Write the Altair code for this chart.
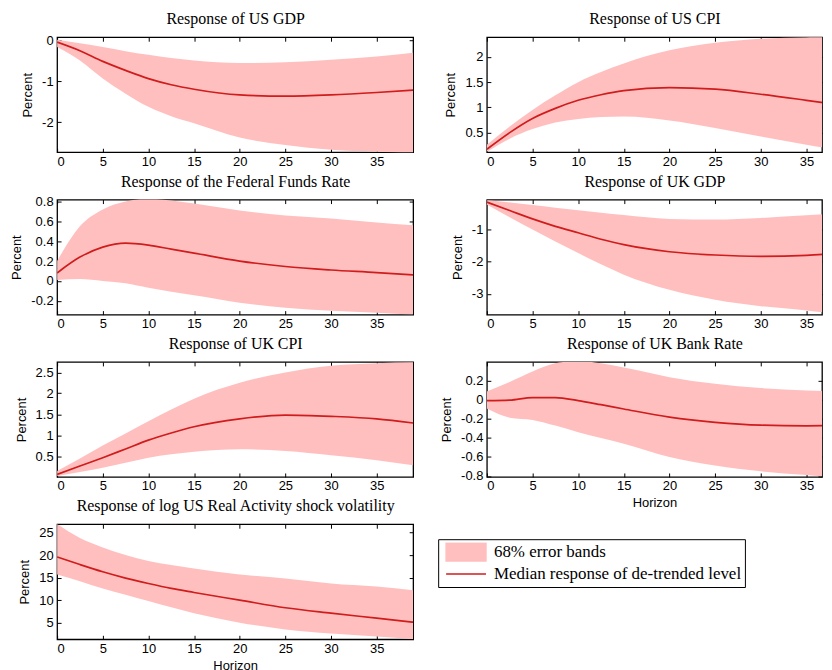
import altair as alt
import pandas as pd

# ---------------- data ----------------
horizon = [0, 2.5, 5, 7.5, 10, 12.5, 15, 20, 25, 30, 35, 39]
x_ticks = [0, 5, 10, 15, 20, 25, 30, 35]

titles = [
    "Response of US GDP",
    "Response of US CPI",
    "Response of the Federal Funds Rate",
    "Response of UK GDP",
    "Response of UK CPI",
    "Response of UK Bank Rate",
    "Response of log US Real Activity shock volatility",
]

us_gdp_med = [-0.04, -0.25, -0.51, -0.73, -0.93, -1.08, -1.19, -1.33, -1.36, -1.33, -1.27, -1.21]
us_gdp_up = [0.02, -0.07, -0.16, -0.26, -0.35, -0.43, -0.49, -0.55, -0.53, -0.47, -0.39, -0.30]
us_gdp_lo = [-0.16, -0.49, -0.93, -1.30, -1.62, -1.85, -2.02, -2.37, -2.55, -2.67, -2.72, -2.76]

us_cpi_med = [0.17, 0.50, 0.78, 0.98, 1.14, 1.25, 1.33, 1.39, 1.36, 1.26, 1.14, 1.04]
us_cpi_up = [0.26, 0.62, 0.95, 1.24, 1.50, 1.70, 1.87, 2.13, 2.28, 2.36, 2.39, 2.41]
us_cpi_lo = [0.12, 0.38, 0.57, 0.70, 0.77, 0.81, 0.82, 0.74, 0.59, 0.42, 0.26, 0.14]

ffr_med = [0.08, 0.24, 0.34, 0.38, 0.36, 0.32, 0.28, 0.20, 0.145, 0.11, 0.084, 0.06]
ffr_up = [0.20, 0.55, 0.72, 0.80, 0.83, 0.81, 0.78, 0.71, 0.66, 0.63, 0.59, 0.56]
ffr_lo = [0.01, 0.02, 0.0, -0.025, -0.07, -0.11, -0.145, -0.22, -0.27, -0.30, -0.32, -0.34]

uk_gdp_med = [-0.15, -0.41, -0.67, -0.90, -1.10, -1.30, -1.47, -1.69, -1.79, -1.83, -1.80, -1.73]
uk_gdp_up = [-0.09, -0.16, -0.24, -0.32, -0.40, -0.48, -0.55, -0.67, -0.69, -0.64, -0.56, -0.49]
uk_gdp_lo = [-0.22, -0.62, -1.00, -1.37, -1.73, -2.08, -2.40, -2.87, -3.18, -3.38, -3.51, -3.65]

uk_cpi_med = [0.06, 0.26, 0.46, 0.67, 0.88, 1.05, 1.20, 1.39, 1.48, 1.45, 1.39, 1.29]
uk_cpi_up = [0.14, 0.44, 0.75, 1.04, 1.33, 1.61, 1.87, 2.25, 2.50, 2.66, 2.72, 2.74]
uk_cpi_lo = [0.02, 0.12, 0.22, 0.34, 0.46, 0.54, 0.60, 0.66, 0.62, 0.52, 0.40, 0.28]

uk_rate_med = [-0.007, -0.002, 0.025, 0.024, -0.007, -0.05, -0.095, -0.18, -0.235, -0.265, -0.272, -0.27]
uk_rate_up = [0.09, 0.19, 0.30, 0.385, 0.41, 0.385, 0.34, 0.24, 0.17, 0.125, 0.10, 0.09]
uk_rate_lo = [-0.09, -0.186, -0.21, -0.27, -0.34, -0.40, -0.46, -0.60, -0.69, -0.75, -0.79, -0.82]

vol_med = [19.6, 17.9, 16.3, 14.9, 13.7, 12.6, 11.7, 10.0, 8.3, 7.1, 6.0, 5.1]
vol_up = [26.9, 23.8, 21.7, 20.0, 18.7, 17.8, 17.0, 15.7, 14.8, 13.7, 13.0, 12.2]
vol_lo = [15.7, 14.2, 12.6, 11.2, 9.8, 8.4, 7.1, 5.0, 3.5, 2.6, 1.9, 1.3]

y_domains = [
    [-2.73, 0.08], [0.11, 2.39], [-0.34, 0.82], [-3.64, -0.07],
    [0.0, 2.75], [-0.81, 0.40], [1.3, 26.85],
]
y_ticks = [
    [-2, -1, 0], [0.5, 1, 1.5, 2], [-0.2, 0, 0.2, 0.4, 0.6, 0.8], [-3, -2, -1],
    [0.5, 1, 1.5, 2, 2.5], [-0.8, -0.6, -0.4, -0.2, 0, 0.2], [5, 10, 15, 20, 25],
]
x_titles = [None, None, None, None, None, "Horizon", "Horizon"]

BAND = "68% error bands"
MED = "Median response of de-trended level"
PINK = "#FFBFBF"
RED = "#D01C1C"
SANS = "Liberation Sans"
SERIF = "Liberation Serif"
H = 115.5
W_LEFT = 357.5          # x = 0..39 shown
W_RIGHT = 336.5         # right column is cut by the page edge
X_MAX_LEFT = 39
X_MAX_RIGHT = 39 * W_RIGHT / W_LEFT

color_scale = alt.Scale(domain=[BAND, MED], range=[PINK, RED])
legend = alt.Legend(
    orient="none", legendX=382.6, legendY=504, title=None,
    symbolType=alt.ExprRef(expr="datum.value === '" + BAND + "' ? 'M-1,-0.45H1V0.45H-1Z' : 'M-1,0H1'"),
    symbolSize=1600, symbolStrokeWidth=1.5,
    symbolStrokeColor=alt.ExprRef(expr="datum.value === '" + BAND + "' ? '" + PINK + "' : '" + RED + "'"),
    symbolFillColor=alt.ExprRef(expr="datum.value === '" + BAND + "' ? '" + PINK + "' : 'transparent'"),
    symbolOpacity=1, clipHeight=20, symbolOffset=4,
    labelFont=SERIF, labelFontSize=17, labelColor="black", labelLimit=400, labelOffset=7,
    labelExpr="datum.label + '\u00a0\u00a0\u00a0\u00a0\u00a0'",
    strokeColor="black", fillColor="white", padding=3, rowPadding=2, cornerRadius=0,
)


def panel(i, med, lo, up):
    right = i % 2 == 1
    width = W_RIGHT if right else W_LEFT
    xmax = X_MAX_RIGHT if right else X_MAX_LEFT
    df = pd.DataFrame({"Horizon": horizon, "median": med, "lower": lo, "upper": up,
                       "band_series": BAND, "line_series": MED})
    xs = alt.Scale(domain=[0, xmax], nice=False, zero=False)
    ys = alt.Scale(domain=y_domains[i], nice=False, zero=False)
    common = dict(offset=-4, tickSize=4, tickWidth=1, tickColor="black", domain=False, grid=False)
    ax_bottom = alt.Axis(orient="bottom", values=x_ticks, labelPadding=3, labelFont=SANS,
                         labelFontSize=13, labelColor="black", titleFont=SANS, titleFontSize=13,
                         titleFontWeight="normal", titleColor="black", titlePadding=4, **common)
    ax_left = alt.Axis(orient="left", values=y_ticks[i], labelPadding=4, labelFont=SANS,
                       labelFontSize=13, labelColor="black", labelExpr="'' + datum.value",
                       titleFont=SANS, titleFontSize=13, titleFontWeight="normal",
                       titleColor="black", titlePadding=7, **common)
    ax_top = alt.Axis(orient="top", values=x_ticks, labels=False, titleFont=SERIF,
                      titleFontSize=16, titleFontWeight="normal", titleColor="black",
                      titlePadding=10, titleAnchor="middle", **common)
    ax_right = alt.Axis(orient="right", values=y_ticks[i], labels=False, **common)

    band = alt.Chart(df).mark_area(clip=True, interpolate="monotone", opacity=1).encode(
        x=alt.X("Horizon:Q", scale=xs, axis=ax_bottom, title=x_titles[i]),
        y=alt.Y("lower:Q", scale=ys, axis=ax_left, title="Percent"),
        y2="upper:Q",
        color=alt.Color("band_series:N", scale=color_scale, legend=legend),
    )
    line = alt.Chart(df).mark_line(clip=True, interpolate="monotone", strokeWidth=1.7).encode(
        x=alt.X("Horizon:Q", scale=xs, axis=ax_top, title=titles[i]),
        y=alt.Y("median:Q", scale=ys, axis=ax_right, title=None),
        color=alt.Color("line_series:N", scale=color_scale, legend=legend),
    )
    return alt.layer(band, line).resolve_axis(x="independent", y="independent").properties(
        width=width, height=H,
    )


panels = [
    panel(0, us_gdp_med, us_gdp_lo, us_gdp_up),
    panel(1, us_cpi_med, us_cpi_lo, us_cpi_up),
    panel(2, ffr_med, ffr_lo, ffr_up),
    panel(3, uk_gdp_med, uk_gdp_lo, uk_gdp_up),
    panel(4, uk_cpi_med, uk_cpi_lo, uk_cpi_up),
    panel(5, uk_rate_med, uk_rate_lo, uk_rate_up),
    panel(6, vol_med, vol_lo, vol_up),
]

chart = alt.concat(*panels, columns=2, spacing={"row": 47.0, "column": 73.5}, bounds="flush").properties(
    padding={"left": 1.3, "top": 0, "right": 0, "bottom": 0},
    background="white",
).configure_view(stroke="black", strokeWidth=1.3)

chart.save("out.html", embed_options={"renderer": "svg", "actions": False})
